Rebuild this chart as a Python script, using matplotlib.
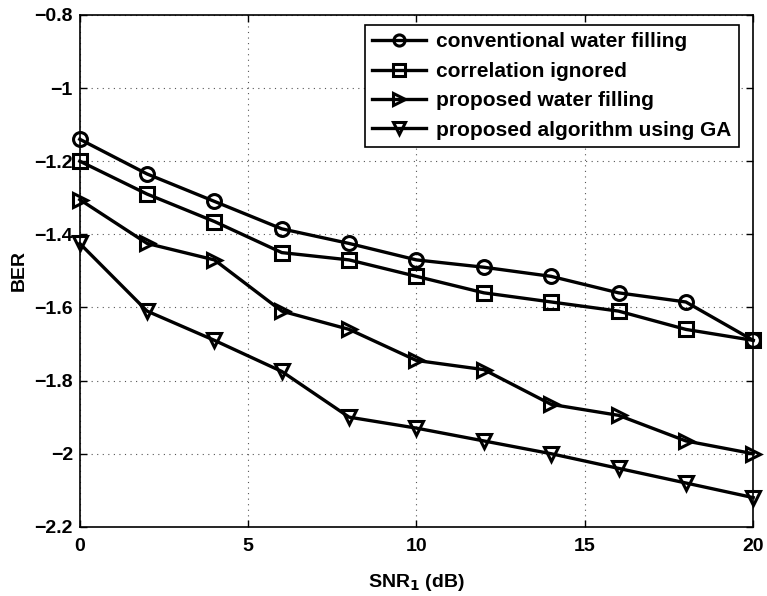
import matplotlib
matplotlib.use('Agg')
import matplotlib.pyplot as plt

plt.rcParams['font.family'] = ['Liberation Sans', 'DejaVu Sans']
plt.rcParams['font.weight'] = 'bold'

snr = [0, 2, 4, 6, 8, 10, 12, 14, 16, 18, 20]
conventional = [-1.14, -1.235, -1.31, -1.385, -1.425, -1.47, -1.49, -1.515, -1.56, -1.585, -1.69]
corr_ignored = [-1.20, -1.29, -1.365, -1.45, -1.47, -1.515, -1.56, -1.585, -1.61, -1.66, -1.69]
proposed_wf = [-1.305, -1.425, -1.47, -1.61, -1.66, -1.745, -1.77, -1.865, -1.895, -1.965, -2.0]
proposed_ga = [-1.425, -1.61, -1.69, -1.775, -1.9, -1.93, -1.965, -2.0, -2.04, -2.08, -2.12]

labels = ['conventional water filling', 'correlation ignored',
          'proposed water filling', 'proposed algorithm using GA']
markers = ['o', 's', '>', 'v']

fig = plt.figure(figsize=(7.67, 5.96), dpi=100)
ax = fig.add_axes([0.104, 0.116, 0.878, 0.859])

for ys, m, lab in zip([conventional, corr_ignored, proposed_wf, proposed_ga], markers, labels):
    ax.plot(snr, ys, color='black', linewidth=2.4, marker=m, markersize=10,
            markerfacecolor='none', markeredgewidth=2.2, label=lab, clip_on=False,
            zorder=3)

ax.set_xlim(0, 20)
ax.set_ylim(-2.2, -0.8)
ax.set_xticks([0, 5, 10, 15, 20])
ax.set_yticks([-2.2, -2, -1.8, -1.6, -1.4, -1.2, -1, -0.8])
ax.set_yticklabels(['\u22122.2', '\u22122', '\u22121.8', '\u22121.6', '\u22121.4', '\u22121.2', '\u22121', '\u22120.8'])
ax.grid(True, linestyle=(0, (1, 4)), color='#555555', linewidth=0.8)
ax.tick_params(direction='in', top=True, right=True, labelsize=14, length=5, width=1)
ax.tick_params(axis='x', pad=8)
ax.tick_params(axis='y', pad=5)
for lab in ax.get_xticklabels() + ax.get_yticklabels():
    lab.set_fontweight('bold')
for s in ax.spines.values():
    s.set_linewidth(1.2)

ax.set_xlabel('SNR$_\\mathbf{1}$ (dB)', fontsize=14, fontweight='bold', labelpad=12)
ax.set_ylabel('BER', fontsize=14, fontweight='bold', labelpad=5)

leg = ax.legend(loc='upper right', bbox_to_anchor=(0.979, 0.980), borderaxespad=0,
                handlelength=2.6, handletextpad=0.5, fancybox=False,
                framealpha=1, edgecolor='black', borderpad=0.35,
                labelspacing=0.5, prop={'weight': 'bold', 'size': 15})
leg.get_frame().set_linewidth(1.2)
for h in leg.legend_handles:
    h.set_markersize(8)

fig.savefig('out.png', dpi=100)
